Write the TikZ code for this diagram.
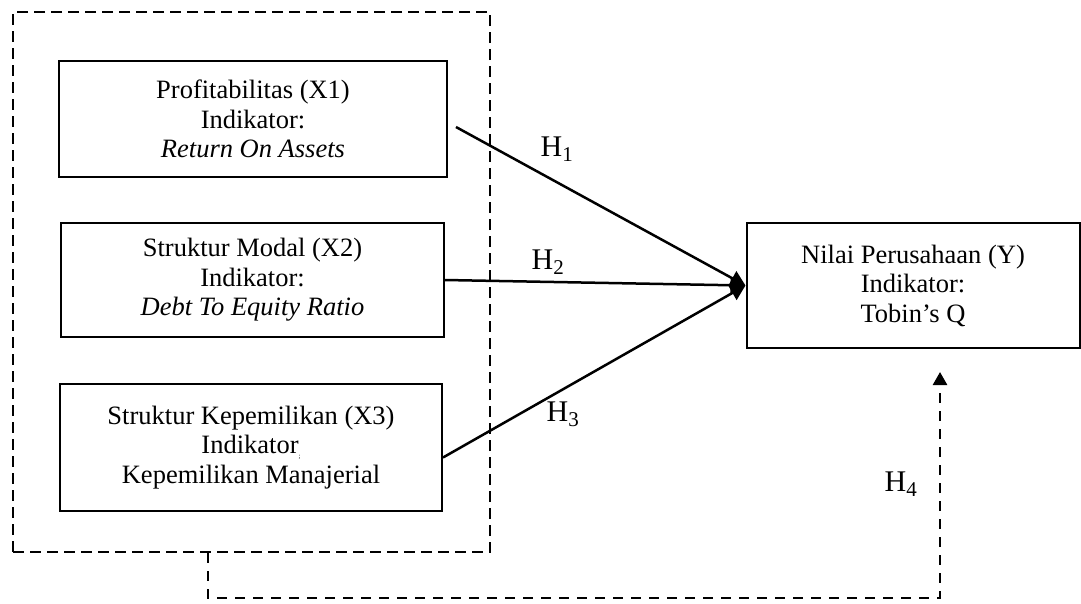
\documentclass[tikz,border=0pt]{standalone}
\usepackage{fontspec}
\setmainfont{Liberation Serif}
\usetikzlibrary{arrows.meta}

\begin{document}
\begin{tikzpicture}[x=1pt, y=-1pt,
  box/.style={draw=black, line width=2pt, align=center, inner sep=0pt,
    font=\fontsize{26.5}{29.5}\selectfont},
  grp/.style={draw=black, line width=2.6pt, dash pattern=on 11pt off 6pt,
    minimum width=477pt, minimum height=540pt},
  arr/.style={line width=2.5pt, -{Triangle[length=15pt,width=16pt]}},
  hyp/.style={font=\fontsize{30}{32}\selectfont}]
\useasboundingbox (0,0) rectangle (1081,603);
% variabel bebas
\node [grp] (grp) at (251.5,282) {};
\node [box, minimum width=388pt, minimum height=116pt] (x1) at (253,119)
  {Profitabilitas (X1)\\Indikator:\\\textit{Return On Assets}};
\node [box, minimum width=383pt, minimum height=114pt] (x2) at (252.5,280)
  {Struktur Modal (X2)\\Indikator:\\\textit{Debt To Equity Ratio}};
\node [box, minimum width=382pt, minimum height=127pt] (x3) at (251,447.5)
  {Struktur Kepemilikan (X3)\\Indikator\raisebox{-0.4ex}{\scriptsize ;}\\Kepemilikan Manajerial};
% variabel terikat
\node [box, minimum width=333pt, minimum height=125pt] (y) at (913,285.5)
  {Nilai Perusahaan (Y)\\Indikator:\\Tobin's Q};
% hipotesis
\draw [arr] ([shift={(8,8)}]x1.east) -- (y.west);
\draw [arr] (x2.east) -- (y.west);
\draw [arr] ([shift={(0,10)}]x3.east) -- (y.west);
\node [hyp] (h1) at (557,149) {H\textsubscript{1}};
\node [hyp] (h2) at (548,262) {H\textsubscript{2}};
\node [hyp] (h3) at (563,414) {H\textsubscript{3}};
\node [hyp] (h4) at (901,484) {H\textsubscript{4}};
\coordinate (h4bend) at (208,598);
\coordinate (h4tip) at (940,372);
\draw [line width=2.6pt, dash pattern=on 10pt off 8pt, -{Triangle[length=13pt,width=14pt]}]
  (grp.south -| h4bend) -- (h4bend) -- (h4bend -| h4tip) -- (h4tip);
\end{tikzpicture}
\end{document}
